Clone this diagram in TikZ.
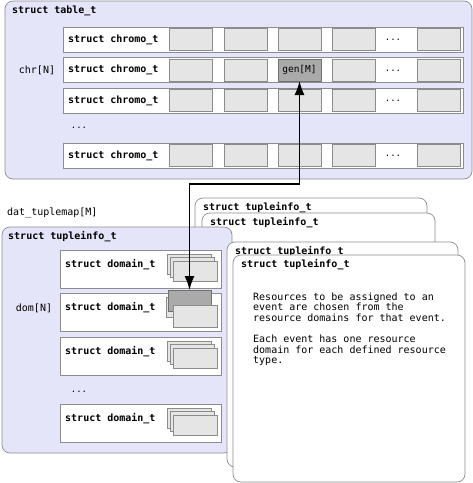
\documentclass[tikz,border=0pt]{standalone}
\usepackage{fontspec}
\setmainfont{DejaVu Sans Mono}
\usetikzlibrary{arrows.meta}
\definecolor{lav}{RGB}{229,229,250}
\definecolor{cellfill}{RGB}{229,229,229}
\definecolor{darkcell}{RGB}{170,170,170}
\definecolor{bord}{RGB}{140,140,140}
\tikzset{
  nwpos/.style={anchor=north west,inner sep=0pt,outer sep=0pt},
  outerbox/.style={nwpos,draw=bord,fill=lav,rounded corners=8pt,line width=0.7pt},
  infobox/.style={nwpos,draw=bord,fill=white,rounded corners=8pt,line width=0.7pt},
  rowbox/.style={nwpos,draw=bord,fill=white,line width=0.7pt},
  cellbox/.style={nwpos,draw=bord,fill=cellfill,line width=0.6pt,minimum width=43pt,minimum height=22pt},
  gencell/.style={nwpos,draw=bord!80!black,fill=darkcell,line width=0.6pt,minimum width=43pt,minimum height=22pt,font=\fontsize{9.5}{10}\selectfont},
  card/.style={nwpos,draw=bord,fill=cellfill,line width=0.6pt,minimum width=44pt,minimum height=20pt},
  darkcard/.style={nwpos,draw=bord!80!black,fill=darkcell,line width=0.6pt,minimum width=43pt,minimum height=21pt},
  title/.style={anchor=west,inner sep=0pt,font=\fontsize{10}{12}\selectfont\bfseries},
  lbl/.style={anchor=west,inner sep=0pt,font=\fontsize{10}{12}\selectfont},
  dots/.style={anchor=center,inner sep=0pt,font=\fontsize{9}{10}\selectfont},
  conn/.style={line width=1.4pt,{Latex[length=14pt,width=10pt]}-{Latex[length=14pt,width=10pt]}}
}
\begin{document}
\begin{tikzpicture}[x=1pt,y=-1pt]
\useasboundingbox (0,0) rectangle (473,483);
% ---------- top table ----------
\node[outerbox,minimum width=467pt,minimum height=178pt] (table) at (5,1) {};
\node[title] (tabtitle) at (12,11) {struct table\_t};
\node[lbl,anchor=center] (chr) at (37,70) {chr[N]};
\foreach \r/\y in {1/27,2/57.5,3/88,4/143}{
  \node[rowbox,minimum width=400pt,minimum height=25pt] (row\r) at (63,\y) {};
  \node[title] (rowt\r) at (68,\y+12.5) {struct chromo\_t};
  \node[cellbox] (c\r a) at (169,\y+1.5) {};
  \node[cellbox] (c\r b) at (224,\y+1.5) {};
  \node[cellbox] (c\r d) at (332,\y+1.5) {};
  \node[dots] (dd\r) at (393,\y+13) {...};
  \node[cellbox] (c\r e) at (417,\y+1.5) {};
}
\foreach \r/\y in {1/27,3/88,4/143}{
  \node[cellbox] (c\r c) at (278,\y+1.5) {};
}
\node[gencell] (gen) at (278,59) {gen[M]};
\node[dots] (rowdots) at (79,128) {...};
% ---------- stacked tupleinfo boxes (back) ----------
\node[infobox,minimum width=232pt,minimum height=240pt] (tA) at (195,198) {};
\node[title] (tAt) at (203,208) {struct tupleinfo\_t};
\node[infobox,minimum width=233pt,minimum height=235pt] (tB) at (202,213) {};
\node[title] (tBt) at (210,223) {struct tupleinfo\_t};
% ---------- tupleinfo (lavender) ----------
\node[lbl] (dtm) at (7,213) {dat\_tuplemap[M]};
\node[outerbox,minimum width=230pt,minimum height=226pt] (tinfo) at (2,227) {};
\node[title] (tinfot) at (8,237) {struct tupleinfo\_t};
\node[lbl,anchor=center] (dom) at (34,308) {dom[N]};
\foreach \r/\y in {1/250,2/293,3/337,4/404}{
  \node[rowbox,minimum width=161pt,minimum height=38pt] (drow\r) at (60,\y) {};
  \node[title] (drowt\r) at (65,\y+15) {struct domain\_t};
}
\foreach \r/\y in {1/250,3/337,4/404}{
  \node[card] (k\r a) at (167,\y+4) {};
  \node[card] (k\r b) at (170,\y+7.5) {};
  \node[card] (k\r c) at (173,\y+11) {};
}
\node[card] (k2a) at (166,297) {};
\node[darkcard] (dk) at (168,290) {};
\node[card,minimum height=22pt] (k2c) at (173,305) {};
\node[dots] (ddots) at (79,392) {...};
% ---------- stacked tupleinfo boxes (front) ----------
\node[infobox,minimum width=231pt,minimum height=225pt] (tC) at (227,242) {};
\node[title] (tCt) at (235,252) {struct tupleinfo\_t};
\node[infobox,minimum width=232pt,minimum height=227pt] (tD) at (233,255) {};
\node[title] (tDt) at (241,265) {struct tupleinfo\_t};
\node[anchor=north west,inner sep=0pt,align=left,font=\fontsize{10}{10.6}\selectfont] (txt) at (253,292.5)
  {Resources to be assigned to an\\event are chosen from the\\resource domains for that event.\\[10.6pt]Each event has one resource\\domain for each defined resource\\type.};
% ---------- connector ----------
\coordinate (bend) at (0,184);
\draw[conn] (gen.south) -- (gen.south |- bend) -- (dk.north |- bend) -- (dk.north);
\end{tikzpicture}
\end{document}
